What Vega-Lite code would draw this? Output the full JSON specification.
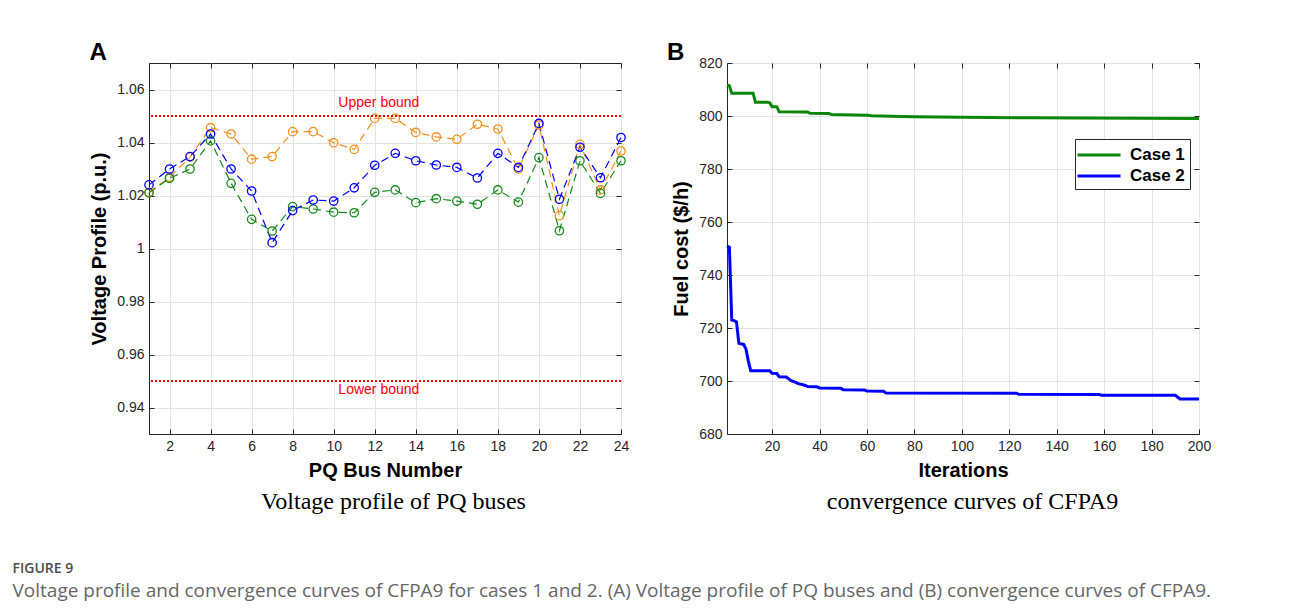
{
  "$schema": "https://vega.github.io/schema/vega-lite/v6.json",
  "background": "white",
  "padding": {"left": 12, "top": 39, "right": 5, "bottom": 5},
  "config": {
    "font": "Liberation Sans",
    "view": {"stroke": "#262626", "strokeWidth": 1},
    "axis": {
      "labelFont": "Liberation Sans", "labelFontSize": 14, "labelColor": "#262626",
      "titleFont": "Liberation Sans", "titleFontSize": 20, "titleFontWeight": "bold", "titleColor": "#000000",
      "gridColor": "#e3e3e3", "gridWidth": 1, "domainColor": "#262626", "tickColor": "#262626",
      "tickSize": -5, "labelPadding": 10, "titlePadding": 7, "labelFlush": false
    }
  },
  "resolve": {"scale": {"color": "independent"}, "legend": {"color": "independent"}},
  "datasets": {
    "voltage": [
      {"bus": 1, "series": "orange", "v": 1.0212}, {"bus": 2, "series": "orange", "v": 1.0269}, {"bus": 3, "series": "orange", "v": 1.0345}, {"bus": 4, "series": "orange", "v": 1.0456},
      {"bus": 5, "series": "orange", "v": 1.0432}, {"bus": 6, "series": "orange", "v": 1.0337}, {"bus": 7, "series": "orange", "v": 1.0347}, {"bus": 8, "series": "orange", "v": 1.0441},
      {"bus": 9, "series": "orange", "v": 1.0441}, {"bus": 10, "series": "orange", "v": 1.0399}, {"bus": 11, "series": "orange", "v": 1.0374}, {"bus": 12, "series": "orange", "v": 1.0491},
      {"bus": 13, "series": "orange", "v": 1.0491}, {"bus": 14, "series": "orange", "v": 1.0438}, {"bus": 15, "series": "orange", "v": 1.0421}, {"bus": 16, "series": "orange", "v": 1.0412},
      {"bus": 17, "series": "orange", "v": 1.0469}, {"bus": 18, "series": "orange", "v": 1.0451}, {"bus": 19, "series": "orange", "v": 1.0300}, {"bus": 20, "series": "orange", "v": 1.0466},
      {"bus": 21, "series": "orange", "v": 1.0124}, {"bus": 22, "series": "orange", "v": 1.0393}, {"bus": 23, "series": "orange", "v": 1.0221}, {"bus": 24, "series": "orange", "v": 1.0368},
      {"bus": 1, "series": "green", "v": 1.0210}, {"bus": 2, "series": "green", "v": 1.0265}, {"bus": 3, "series": "green", "v": 1.0300}, {"bus": 4, "series": "green", "v": 1.0406},
      {"bus": 5, "series": "green", "v": 1.0246}, {"bus": 6, "series": "green", "v": 1.0110}, {"bus": 7, "series": "green", "v": 1.0066}, {"bus": 8, "series": "green", "v": 1.0158},
      {"bus": 9, "series": "green", "v": 1.0149}, {"bus": 10, "series": "green", "v": 1.0137}, {"bus": 11, "series": "green", "v": 1.0135}, {"bus": 12, "series": "green", "v": 1.0212},
      {"bus": 13, "series": "green", "v": 1.0221}, {"bus": 14, "series": "green", "v": 1.0173}, {"bus": 15, "series": "green", "v": 1.0188}, {"bus": 16, "series": "green", "v": 1.0179},
      {"bus": 17, "series": "green", "v": 1.0167}, {"bus": 18, "series": "green", "v": 1.0221}, {"bus": 19, "series": "green", "v": 1.0175}, {"bus": 20, "series": "green", "v": 1.0343},
      {"bus": 21, "series": "green", "v": 1.0067}, {"bus": 22, "series": "green", "v": 1.0331}, {"bus": 23, "series": "green", "v": 1.0208}, {"bus": 24, "series": "green", "v": 1.0331},
      {"bus": 1, "series": "blue", "v": 1.0240}, {"bus": 2, "series": "blue", "v": 1.0300}, {"bus": 3, "series": "blue", "v": 1.0347}, {"bus": 4, "series": "blue", "v": 1.0432},
      {"bus": 5, "series": "blue", "v": 1.0300}, {"bus": 6, "series": "blue", "v": 1.0217}, {"bus": 7, "series": "blue", "v": 1.0022}, {"bus": 8, "series": "blue", "v": 1.0143},
      {"bus": 9, "series": "blue", "v": 1.0183}, {"bus": 10, "series": "blue", "v": 1.0179}, {"bus": 11, "series": "blue", "v": 1.0229}, {"bus": 12, "series": "blue", "v": 1.0314},
      {"bus": 13, "series": "blue", "v": 1.0359}, {"bus": 14, "series": "blue", "v": 1.0331}, {"bus": 15, "series": "blue", "v": 1.0315}, {"bus": 16, "series": "blue", "v": 1.0306},
      {"bus": 17, "series": "blue", "v": 1.0266}, {"bus": 18, "series": "blue", "v": 1.0359}, {"bus": 19, "series": "blue", "v": 1.0306}, {"bus": 20, "series": "blue", "v": 1.0472},
      {"bus": 21, "series": "blue", "v": 1.0186}, {"bus": 22, "series": "blue", "v": 1.0382}, {"bus": 23, "series": "blue", "v": 1.0267}, {"bus": 24, "series": "blue", "v": 1.0419}
    ],
    "bounds": [
      {"label": "Upper bound", "v": 1.05, "bus": 12.2},
      {"label": "Lower bound", "v": 0.95, "bus": 12.2}
    ],
    "conv": [
      {"iter": 1, "cost": 811.7, "case": "Case 1"}, {"iter": 2, "cost": 811.4, "case": "Case 1"}, {"iter": 3, "cost": 808.6, "case": "Case 1"}, {"iter": 12, "cost": 808.6, "case": "Case 1"},
      {"iter": 13, "cost": 805.2, "case": "Case 1"}, {"iter": 18, "cost": 805.2, "case": "Case 1"}, {"iter": 19, "cost": 805.0, "case": "Case 1"}, {"iter": 20, "cost": 803.5, "case": "Case 1"},
      {"iter": 22, "cost": 803.5, "case": "Case 1"}, {"iter": 23, "cost": 801.6, "case": "Case 1"}, {"iter": 35, "cost": 801.5, "case": "Case 1"}, {"iter": 36, "cost": 801.0, "case": "Case 1"},
      {"iter": 44, "cost": 800.9, "case": "Case 1"}, {"iter": 45, "cost": 800.6, "case": "Case 1"}, {"iter": 50, "cost": 800.5, "case": "Case 1"}, {"iter": 60, "cost": 800.3, "case": "Case 1"},
      {"iter": 62, "cost": 800.1, "case": "Case 1"}, {"iter": 70, "cost": 799.9, "case": "Case 1"}, {"iter": 80, "cost": 799.7, "case": "Case 1"}, {"iter": 100, "cost": 799.5, "case": "Case 1"},
      {"iter": 130, "cost": 799.3, "case": "Case 1"}, {"iter": 150, "cost": 799.2, "case": "Case 1"}, {"iter": 200, "cost": 799.1, "case": "Case 1"},
      {"iter": 1, "cost": 750.9, "case": "Case 2"}, {"iter": 2, "cost": 750.5, "case": "Case 2"}, {"iter": 3, "cost": 723.0, "case": "Case 2"}, {"iter": 4, "cost": 722.8, "case": "Case 2"},
      {"iter": 5, "cost": 722.3, "case": "Case 2"}, {"iter": 6, "cost": 714.2, "case": "Case 2"}, {"iter": 8, "cost": 713.8, "case": "Case 2"}, {"iter": 9, "cost": 712.0, "case": "Case 2"},
      {"iter": 10, "cost": 707.5, "case": "Case 2"}, {"iter": 11, "cost": 703.9, "case": "Case 2"}, {"iter": 19, "cost": 703.9, "case": "Case 2"}, {"iter": 20, "cost": 702.9, "case": "Case 2"},
      {"iter": 22, "cost": 702.8, "case": "Case 2"}, {"iter": 23, "cost": 701.6, "case": "Case 2"}, {"iter": 26, "cost": 701.5, "case": "Case 2"}, {"iter": 27, "cost": 700.8, "case": "Case 2"},
      {"iter": 28, "cost": 700.1, "case": "Case 2"}, {"iter": 30, "cost": 699.5, "case": "Case 2"}, {"iter": 31, "cost": 699.0, "case": "Case 2"}, {"iter": 33, "cost": 698.6, "case": "Case 2"},
      {"iter": 34, "cost": 698.3, "case": "Case 2"}, {"iter": 35, "cost": 697.9, "case": "Case 2"}, {"iter": 39, "cost": 697.8, "case": "Case 2"}, {"iter": 40, "cost": 697.4, "case": "Case 2"},
      {"iter": 49, "cost": 697.3, "case": "Case 2"}, {"iter": 50, "cost": 696.7, "case": "Case 2"}, {"iter": 59, "cost": 696.6, "case": "Case 2"}, {"iter": 60, "cost": 696.2, "case": "Case 2"},
      {"iter": 67, "cost": 696.1, "case": "Case 2"}, {"iter": 68, "cost": 695.5, "case": "Case 2"}, {"iter": 123, "cost": 695.4, "case": "Case 2"}, {"iter": 124, "cost": 695.0, "case": "Case 2"},
      {"iter": 158, "cost": 694.9, "case": "Case 2"}, {"iter": 159, "cost": 694.6, "case": "Case 2"}, {"iter": 190, "cost": 694.6, "case": "Case 2"}, {"iter": 192, "cost": 693.2, "case": "Case 2"},
      {"iter": 200, "cost": 693.2, "case": "Case 2"}
    ]
  },
  "title": {
    "text": "FIGURE 9",
    "subtitle": "Voltage profile and convergence curves of CFPA9 for cases 1 and 2. (A) Voltage profile of PQ buses and (B) convergence curves of CFPA9.",
    "orient": "bottom", "anchor": "start", "frame": "bounds", "dx": -76, "offset": 48,
    "font": "Open Sans", "fontSize": 14, "fontWeight": 600, "color": "#4d4d4d",
    "subtitleFont": "Open Sans", "subtitleFontSize": 19, "subtitleColor": "#666666", "subtitlePadding": 6
  },
  "spacing": 35,
  "hconcat": [
    {
      "width": 472, "height": 371,
      "resolve": {"axis": {"x": "independent", "y": "independent"}},
      "layer": [
        {
          "data": {"name": "voltage"},
          "mark": {"type": "line", "strokeWidth": 1.2, "strokeDash": [8, 5]},
          "encoding": {
            "x": {"field": "bus", "type": "quantitative", "scale": {"domain": [1, 24], "nice": false, "zero": false},
                  "axis": {"orient": "bottom", "values": [2, 4, 6, 8, 10, 12, 14, 16, 18, 20, 22, 24], "title": "PQ Bus Number", "grid": true}},
            "y": {"field": "v", "type": "quantitative", "scale": {"domain": [0.93, 1.07], "nice": false, "zero": false},
                  "axis": {"orient": "left", "values": [0.94, 0.96, 0.98, 1, 1.02, 1.04, 1.06], "format": "~g", "title": "Voltage Profile (p.u.)", "grid": true}},
            "color": {"field": "series", "type": "nominal", "scale": {"domain": ["orange", "green", "blue"], "range": ["#f88f1c", "#15891a", "#0000ff"]}, "legend": null}
          }
        },
        {
          "data": {"name": "voltage"},
          "mark": {"type": "point", "shape": "circle", "filled": false, "size": 70, "strokeWidth": 1.3, "opacity": 1},
          "encoding": {
            "x": {"field": "bus", "type": "quantitative", "scale": {"domain": [1, 24], "nice": false, "zero": false},
                  "axis": {"orient": "bottom", "offset": 55, "labels": false, "ticks": false, "domain": false, "grid": false, "title": "Voltage profile of PQ buses",
                           "titleFont": "Liberation Serif", "titleFontWeight": "normal", "titleFontSize": 24, "titlePadding": 0, "titleX": 244, "titleAlign": "center"}},
            "y": {"field": "v", "type": "quantitative", "scale": {"domain": [0.93, 1.07], "nice": false, "zero": false},
                  "axis": {"orient": "right", "values": [0.94, 0.96, 0.98, 1, 1.02, 1.04, 1.06], "labels": false, "labelPadding": 0, "title": null, "grid": false, "domain": false}},
            "color": {"field": "series", "type": "nominal", "scale": {"domain": ["orange", "green", "blue"], "range": ["#f88f1c", "#15891a", "#0000ff"]}, "legend": null}
          }
        },
        {
          "data": {"name": "bounds"},
          "mark": {"type": "rule", "color": "#ff0000", "strokeWidth": 2, "strokeDash": [2, 2]},
          "encoding": {
            "y": {"field": "v", "type": "quantitative", "scale": {"domain": [0.93, 1.07], "nice": false, "zero": false}, "axis": null}
          }
        },
        {
          "data": {"name": "bounds"},
          "transform": [{"filter": "datum.label === 'Upper bound'"}],
          "mark": {"type": "text", "color": "#ff0000", "fontSize": 14, "font": "Liberation Sans", "dy": -13},
          "encoding": {
            "x": {"field": "bus", "type": "quantitative", "scale": {"domain": [1, 24], "nice": false, "zero": false},
                  "axis": {"orient": "top", "values": [2, 4, 6, 8, 10, 12, 14, 16, 18, 20, 22, 24], "labels": false, "labelPadding": 0, "grid": false, "domain": false,
                           "title": "A", "titleFont": "Liberation Sans", "titleFontSize": 24, "titleFontWeight": "bold", "titleX": -60, "titleY": -4, "titleAlign": "left", "titleBaseline": "alphabetic"}},
            "y": {"field": "v", "type": "quantitative", "scale": {"domain": [0.93, 1.07], "nice": false, "zero": false}, "axis": null},
            "text": {"field": "label"}
          }
        },
        {
          "data": {"name": "bounds"},
          "transform": [{"filter": "datum.label === 'Lower bound'"}],
          "mark": {"type": "text", "color": "#ff0000", "fontSize": 14, "font": "Liberation Sans", "dy": 9},
          "encoding": {
            "x": {"field": "bus", "type": "quantitative", "scale": {"domain": [1, 24], "nice": false, "zero": false}, "axis": null},
            "y": {"field": "v", "type": "quantitative", "scale": {"domain": [0.93, 1.07], "nice": false, "zero": false}, "axis": null},
            "text": {"field": "label"}
          }
        }
      ]
    },
    {
      "width": 472, "height": 371,
      "resolve": {"axis": {"x": "independent", "y": "independent"}},
      "layer": [
        {
          "data": {"name": "conv"},
          "mark": {"type": "line", "strokeWidth": 3},
          "encoding": {
            "x": {"field": "iter", "type": "quantitative", "scale": {"domain": [1, 200], "nice": false, "zero": false},
                  "axis": {"orient": "bottom", "values": [20, 40, 60, 80, 100, 120, 140, 160, 180, 200], "title": "Iterations", "grid": true}},
            "y": {"field": "cost", "type": "quantitative", "scale": {"domain": [680, 820], "nice": false, "zero": false},
                  "axis": {"orient": "left", "values": [680, 700, 720, 740, 760, 780, 800, 820], "title": "Fuel cost ($/h)", "grid": true}},
            "color": {"field": "case", "type": "nominal", "scale": {"domain": ["Case 1", "Case 2"], "range": ["#0a870a", "#0000ff"]},
                      "legend": {"title": null, "orient": "none", "legendX": 348, "legendY": 76, "fillColor": "#ffffff", "strokeColor": "#262626",
                                 "padding": 5, "symbolType": "M-2.3,0H2.3", "symbolSize": 350, "symbolStrokeWidth": 3, "symbolOffset": 8,
                                 "labelOffset": 20, "labelFont": "Liberation Sans", "labelFontSize": 17, "labelFontWeight": "bold", "labelColor": "#000000", "rowPadding": 2}}
          }
        },
        {
          "data": {"name": "conv"},
          "mark": {"type": "point", "opacity": 0},
          "encoding": {
            "x": {"field": "iter", "type": "quantitative", "scale": {"domain": [1, 200], "nice": false, "zero": false},
                  "axis": {"orient": "top", "values": [20, 40, 60, 80, 100, 120, 140, 160, 180, 200], "labels": false, "labelPadding": 0, "grid": false, "domain": false,
                           "title": "B", "titleFont": "Liberation Sans", "titleFontSize": 24, "titleFontWeight": "bold", "titleX": -60.6, "titleY": -4, "titleAlign": "left", "titleBaseline": "alphabetic"}},
            "y": {"field": "cost", "type": "quantitative", "scale": {"domain": [680, 820], "nice": false, "zero": false},
                  "axis": {"orient": "right", "values": [680, 700, 720, 740, 760, 780, 800, 820], "labels": false, "labelPadding": 0, "title": null, "grid": false, "domain": false}}
          }
        },
        {
          "data": {"name": "conv"},
          "mark": {"type": "point", "opacity": 0},
          "encoding": {
            "x": {"field": "iter", "type": "quantitative", "scale": {"domain": [1, 200], "nice": false, "zero": false},
                  "axis": {"orient": "bottom", "offset": 55, "labels": false, "ticks": false, "domain": false, "grid": false, "title": "convergence curves of CFPA9",
                           "titleFont": "Liberation Serif", "titleFontWeight": "normal", "titleFontSize": 24, "titlePadding": 0, "titleX": 245, "titleAlign": "center"}},
            "y": {"field": "cost", "type": "quantitative", "scale": {"domain": [680, 820], "nice": false, "zero": false}, "axis": null}
          }
        }
      ]
    }
  ]
}
